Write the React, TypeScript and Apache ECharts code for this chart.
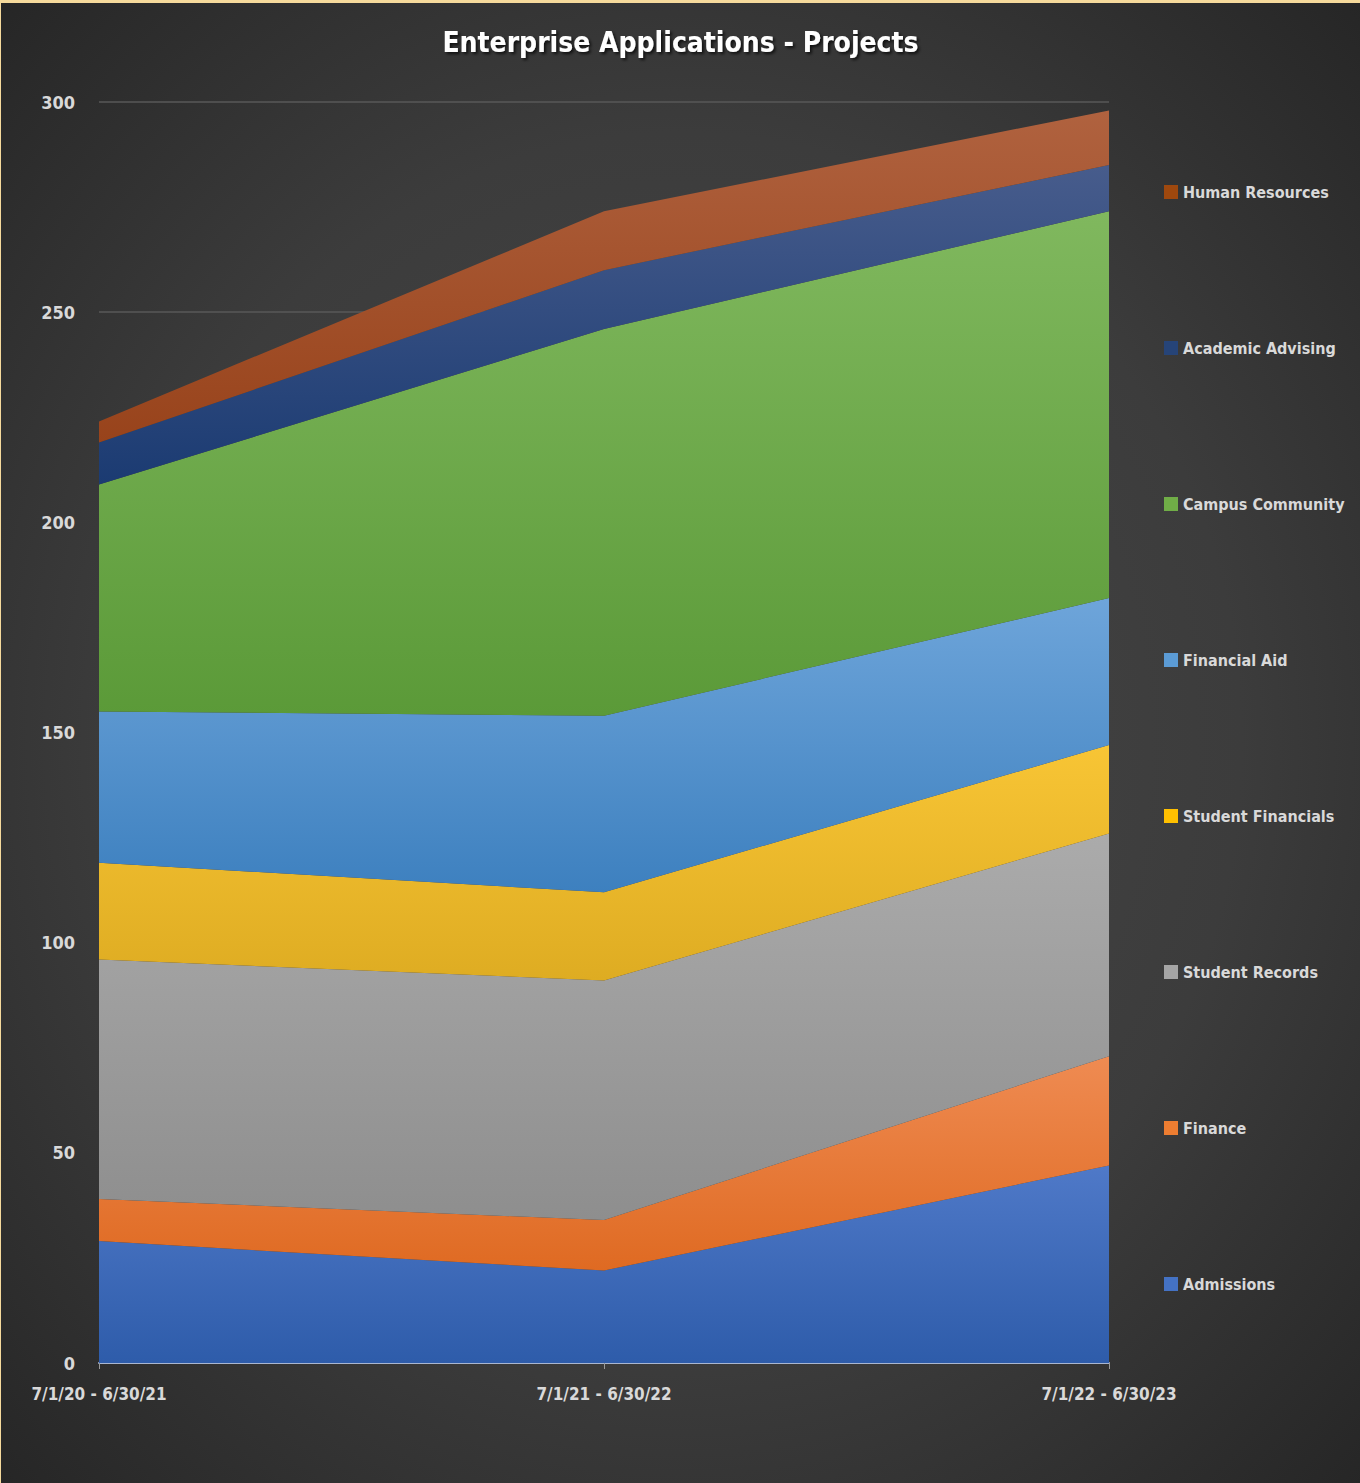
import React, { useEffect, useRef } from "react";
import * as echarts from "echarts";

const categories = ["7/1/20 - 6/30/21", "7/1/21 - 6/30/22", "7/1/22 - 6/30/23"];
const admissions = [29, 22, 47];
const finance = [10, 12, 26];
const studentRecords = [57, 57, 53];
const studentFinancials = [23, 21, 21];
const financialAid = [36, 42, 35];
const campusCommunity = [54, 92, 92];
const academicAdvising = [10, 14, 11];
const humanResources = [5, 14, 13];
const yTicks = [0, 50, 100, 150, 200, 250, 300];

const FONT = "'DejaVu Sans', sans-serif";

const seriesDefs = [
  { name: "Admissions", data: admissions, top: "#4f79c8", bottom: "#2e5caa", legend: "#4472c4" },
  { name: "Finance", data: finance, top: "#ef8b52", bottom: "#df6a22", legend: "#ed7d31" },
  { name: "Student Records", data: studentRecords, top: "#ababab", bottom: "#8e8e8e", legend: "#a5a5a5" },
  { name: "Student Financials", data: studentFinancials, top: "#f8c535", bottom: "#deac22", legend: "#ffc000" },
  { name: "Financial Aid", data: financialAid, top: "#6ea5da", bottom: "#3d80bf", legend: "#5b9bd5" },
  { name: "Campus Community", data: campusCommunity, top: "#80b85e", bottom: "#5b9a38", legend: "#70ad47" },
  { name: "Academic Advising", data: academicAdvising, top: "#475c8c", bottom: "#1b3b72", legend: "#264478" },
  { name: "Human Resources", data: humanResources, top: "#b0623f", bottom: "#98431b", legend: "#9e480e" },
];

export default function App() {
  const ref = useRef<HTMLDivElement>(null);
  useEffect(() => {
    document.body.style.margin = "0";
    const chart = echarts.init(ref.current!, undefined, { renderer: "svg" });
    chart.setOption({
      animation: false,
      backgroundColor: {
        type: "radial",
        x: 0.5,
        y: 0.5,
        r: 0.75,
        colorStops: [
          { offset: 0, color: "#484848" },
          { offset: 0.55, color: "#3c3c3c" },
          { offset: 1, color: "#232323" },
        ],
      },
      title: {
        text: "Enterprise Applications - Projects",
        left: "center",
        top: 20,
        textStyle: {
          color: "#ffffff",
          fontFamily: FONT,
          fontWeight: "bold",
          fontSize: 28,
          textShadowColor: "rgba(0,0,0,0.7)",
          textShadowBlur: 3,
          textShadowOffsetX: 2,
          textShadowOffsetY: 2,
        },
      },
      legend: {
        orient: "vertical",
        left: 1158,
        top: 175,
        itemWidth: 14,
        itemHeight: 14,
        itemGap: 138,
        itemTextGap: 6,
        icon: "rect",
        data: seriesDefs
          .slice()
          .reverse()
          .map((s) => ({ name: s.name, itemStyle: { color: s.legend } })),
        textStyle: {
          color: "#d9d9d9",
          fontFamily: FONT,
          fontWeight: "bold",
          fontSize: 16,
          lineHeight: 18,
        },
      },
      grid: { left: 98, right: 251, top: 99, bottom: 120 },
      xAxis: {
        type: "category",
        boundaryGap: false,
        data: categories,
        axisLine: { show: true, lineStyle: { color: "#a9b6d0", width: 2 } },
        axisTick: { show: true, length: 6, lineStyle: { color: "#9a9a9a" } },
        axisLabel: {
          color: "#d9d9d9",
          fontFamily: FONT,
          fontWeight: "bold",
          fontSize: 17,
          margin: 22,
        },
      },
      yAxis: {
        type: "value",
        min: 0,
        max: 300,
        interval: 50,
        axisLine: { show: false },
        axisTick: { show: false },
        splitLine: { show: true, lineStyle: { color: "#585858", width: 1.5 } },
        axisLabel: {
          color: "#d9d9d9",
          fontFamily: FONT,
          fontWeight: "bold",
          fontSize: 18,
          margin: 24,
          customValues: yTicks,
        },
      },
      series: seriesDefs.map((s) => ({
        name: s.name,
        type: "line",
        stack: "total",
        data: s.data,
        symbol: "none",
        lineStyle: { width: 0 },
        itemStyle: { color: s.legend },
        areaStyle: {
          opacity: 1,
          color: {
            type: "linear",
            x: 0,
            y: 0,
            x2: 0,
            y2: 1,
            colorStops: [
              { offset: 0, color: s.top },
              { offset: 1, color: s.bottom },
            ],
          },
        },
      })),
    });
    return () => chart.dispose();
  }, []);
  return (
    <div style={{ background: "#f6da9c", paddingTop: 3, paddingLeft: 1, width: 1360, height: 1483, boxSizing: "border-box" }}>
      <style>{"#root svg text { font-stretch: condensed !important; }"}</style>
      <div ref={ref} style={{ width: 1359, height: 1480 }} />
    </div>
  );
}
